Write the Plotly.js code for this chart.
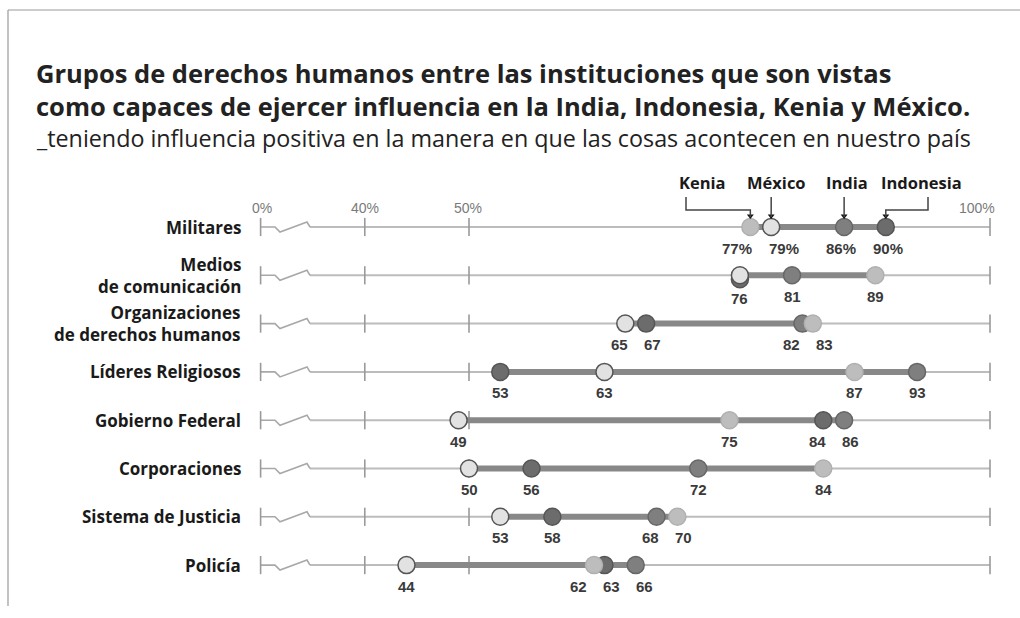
<!DOCTYPE html>
<html>
<head>
<meta charset="utf-8">
<script src="https://cdn.plot.ly/plotly-3.0.1.min.js"></script>
<style>
  html, body { margin: 0; padding: 0; background: #fff; }
  #chart { width: 1020px; height: 618px; }
</style>
</head>
<body>
<div id="chart"></div>
<script>
// ---------- DATA ----------
const categories = ['Militares', 'Medios<br>de comunicación', 'Organizaciones<br>de derechos humanos',
  'Líderes Religiosos', 'Gobierno Federal', 'Corporaciones', 'Sistema de Justicia', 'Policía'];
const countries = ['Kenia', 'México', 'India', 'Indonesia'];
const kenia     = [77, 89, 83, 87, 75, 84, 70, 62];
const mexico    = [79, 76, 65, 63, 49, 50, 53, 44];
const india     = [86, 81, 82, 93, 86, 72, 68, 66];
const indonesia = [90, 76, 67, 53, 84, 56, 58, 63];
const tickValues = [30, 40, 50, 100];
const tickLabels = ['0%', '40%', '50%', '100%'];
const titleLines = ['Grupos de derechos humanos entre las instituciones que son vistas',
  'como capaces de ejercer influencia en la India, Indonesia, Kenia y México.'];
const subtitle = '_teniendo influencia positiva en la manera en que las cosas acontecen en nuestro país';

// ---------- GEOMETRY / STYLE ----------
const W = 1020, H = 618;
const PX50 = 469, PXPER = 10.42;         // pixel of 50% and pixels per percent
const ROW0 = 227, ROWPX = 48.3;          // pixel of first row, row spacing
const xr = [50 - PX50 / PXPER, 50 + (W - PX50) / PXPER];
const yr = [(H - ROW0) / ROWPX, -ROW0 / ROWPX];
const vx = v => PX50 + (v - 50) * PXPER;   // value -> px
const px2v = p => 50 + (p - PX50) / PXPER; // px -> value
const dy = p => p / ROWPX;                 // px -> y units

const seriesVals = [kenia, mexico, india, indonesia];
const fills   = ['#bdbdbd', '#e2e2e2', '#7f7f7f', '#6c6c6c'];
const strokes = ['#b0b0b0', '#555555', '#666666', '#555555'];
const drawOrder = [2, 3, 0, 1]; // draw dark first, light ones and México on top
const FONT = 'Open Sans, Noto Sans, sans-serif';

const traces = [];
const shapes = [];
const annotations = [];
const nRows = categories.length;
const breakStart = 30, breakEnd = px2v(310);

for (let i = 0; i < nRows; i++) {
  traces.push({x: [breakEnd, 100], y: [i, i], mode: 'lines', line: {color: '#bcbcbc', width: 2},
    hoverinfo: 'skip'});
  traces.push({x: [breakStart, px2v(275), px2v(280), px2v(307), breakEnd],
    y: [i, i, i + dy(5), i - dy(5), i], mode: 'lines',
    line: {color: '#a8a8a8', width: 1.6}, hoverinfo: 'skip'});
}
// ticks
const tx = [], ty = [];
for (let i = 0; i < nRows; i++) tickValues.forEach(t => { tx.push(t); ty.push(i); });
traces.push({x: tx, y: ty, mode: 'markers', marker: {symbol: 'line-ns-open', size: 13, color: '#9a9a9a',
  line: {color: '#9a9a9a', width: 1.6}}, hoverinfo: 'skip'});

// range bars
for (let i = 0; i < nRows; i++) {
  const vals = seriesVals.map(s => s[i]);
  traces.push({x: [Math.min(...vals), Math.max(...vals)], y: [i, i], mode: 'lines',
    line: {color: '#888888', width: 6}, hoverinfo: 'skip'});
}

// dots (stack identical values slightly)
drawOrder.forEach(k => {
  const ys = seriesVals[k].map((v, i) => {
    const dupAbove = drawOrder.slice(drawOrder.indexOf(k) + 1).some(j => seriesVals[j][i] === v);
    return dupAbove ? i + dy(4) : i;
  });
  traces.push({x: seriesVals[k], y: ys, mode: 'markers', name: countries[k],
    marker: {size: 17, color: fills[k], line: {color: strokes[k], width: 1.5}},
    hovertemplate: countries[k] + ': %{x}%<extra></extra>'});
});

// value labels with simple collision spreading
for (let i = 0; i < nRows; i++) {
  const seen = {};
  let labs = [];
  seriesVals.forEach(s => {
    const v = s[i];
    if (seen[v]) return; seen[v] = 1;
    labs.push({v: v, t: i === 0 ? v + '%' : String(v), p: vx(v)});
  });
  labs.sort((a, b) => a.p - b.p);
  for (let it = 0; it < 30; it++) {
    for (let j = 0; j < labs.length - 1; j++) {
      const minGap = (Math.max(labs[j].t.length, labs[j + 1].t.length)) * 14 + 5;
      const gap = labs[j + 1].p - labs[j].p;
      if (gap < minGap) { const d = (minGap - gap) / 2; labs[j].p -= d; labs[j + 1].p += d; }
    }
  }
  const anyDup = Object.keys(seen).length < 4;
  labs.forEach(l => annotations.push({x: l.v, y: i, xref: 'x', yref: 'y', text: l.t,
    showarrow: false, xanchor: 'center', yanchor: 'middle',
    xshift: l.p - vx(l.v), yshift: anyDup && l.t === String(mexico[i]) ? -23 : -21,
    font: {family: 'Liberation Sans, Arial, sans-serif', size: 15, color: '#3a3a3a', weight: 'bold'}}));
}

// axis tick labels above first row
const tickLabelPx = [262, 365, 468, 977];
tickValues.forEach((t, k) => annotations.push({x: tickLabelPx[k] / W, xref: 'paper', y: 0, yref: 'y',
  text: tickLabels[k], showarrow: false, xanchor: 'center', yanchor: 'middle', yshift: 19,
  font: {family: 'Liberation Sans Narrow, Liberation Sans, Arial', size: 14, color: '#7a7a7a'}}));

// row labels
categories.forEach((c, i) => annotations.push({x: 243 / W, xref: 'paper', y: i, yref: 'y', text: '<b>' + c + '</b>',
  showarrow: false, xanchor: 'right', yanchor: 'middle', align: 'right',
  font: {family: FONT, size: 17, color: '#1a1a1a'}}));

// titles
annotations.push({x: 34 / W, y: 1 - 54 / H, xref: 'paper', yref: 'paper', xanchor: 'left', yanchor: 'top',
  showarrow: false, align: 'left', text: '<b>' + titleLines.join('<br>') + '</b>',
  font: {family: FONT, size: 25.5, color: '#222'}});
annotations.push({x: 34 / W, y: 1 - 120 / H, xref: 'paper', yref: 'paper', xanchor: 'left', yanchor: 'top',
  showarrow: false, align: 'left', text: subtitle,
  font: {family: FONT, size: 23.3, color: '#222'}});

// legend labels with connectors to the first row
const legendPx = [702, 776, 847, 921];
const connPx   = [686, null, null, 928];
countries.forEach((c, k) => {
  annotations.push({x: legendPx[k] / W, xref: 'paper', y: 0, yref: 'y', yshift: 45, text: '<b>' + c + '</b>',
    showarrow: false, xanchor: 'center', yanchor: 'middle',
    font: {family: FONT, size: 16.5, color: '#1a1a1a'}});
  const v = seriesVals[k][0];
  const yTop = -dy(30), yMid = -dy(17), yEnd = -dy(10);
  let path;
  if (connPx[k] !== null) {
    const cx = px2v(connPx[k]);
    path = `M ${cx} ${yTop} L ${cx} ${yMid} L ${v} ${yMid} L ${v} ${yEnd}`;
  } else {
    path = `M ${v} ${yTop} L ${v} ${yEnd}`;
  }
  shapes.push({type: 'path', xref: 'x', yref: 'y', path: path, line: {color: '#444', width: 1.5}});
  traces.push({x: [v], y: [-dy(11)], mode: 'markers', marker: {symbol: 'triangle-down', size: 6, color: '#111'},
    hoverinfo: 'skip'});
});

// border lines (top and left)
shapes.push({type: 'line', xref: 'paper', yref: 'paper', x0: 8 / W, x1: 1, y0: 1 - 10 / H, y1: 1 - 10 / H,
  line: {color: '#9a9a9a', width: 1.2}});
shapes.push({type: 'line', xref: 'paper', yref: 'paper', x0: 8 / W, x1: 8 / W, y0: 1 - 10 / H, y1: 1 - 606 / H,
  line: {color: '#9a9a9a', width: 1.2}});

const layout = {
  width: W, height: H, margin: {l: 0, r: 0, t: 0, b: 0},
  paper_bgcolor: '#fff', plot_bgcolor: '#fff', showlegend: false,
  xaxis: {range: xr, visible: false, fixedrange: true},
  yaxis: {range: yr, visible: false, fixedrange: true},
  shapes: shapes, annotations: annotations
};
Plotly.newPlot('chart', traces, layout, {displayModeBar: false});
</script>
</body>
</html>
